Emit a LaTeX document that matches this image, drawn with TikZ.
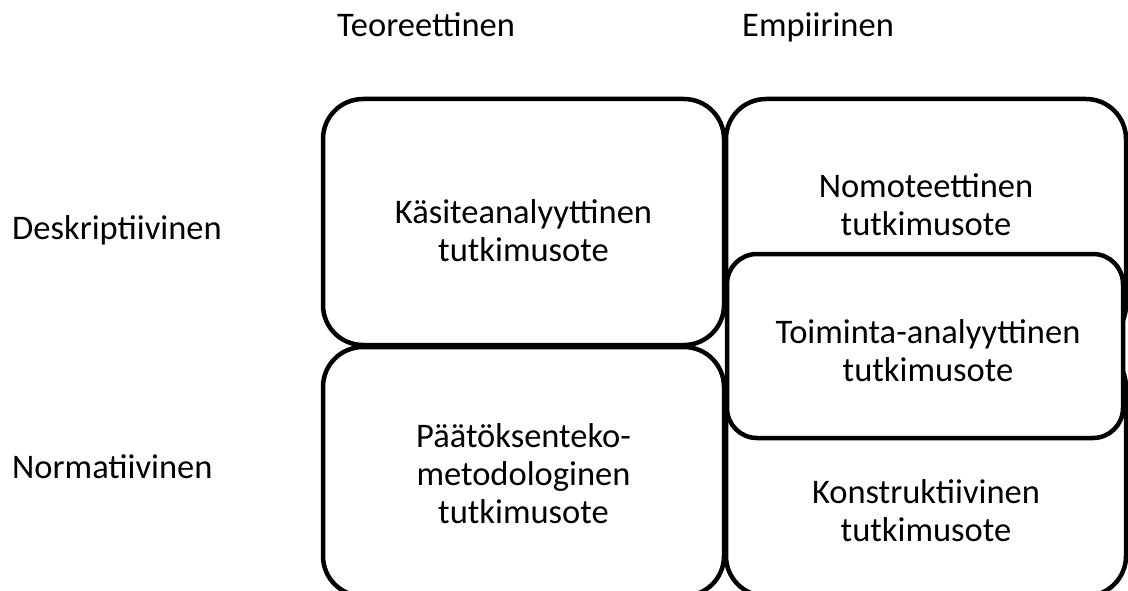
\documentclass[tikz,border=0pt]{standalone}
\usepackage{fontspec}
\setmainfont{Carlito}
\begin{document}
\begin{tikzpicture}[x=1pt,y=-1pt,
  cell/.style={draw=black, line width=4.5pt, fill=white, rounded corners=40pt,
    inner sep=0pt, outer sep=0pt, anchor=north west},
  celltext/.style={align=center, font=\fontsize{34.5}{38}\selectfont, inner sep=0pt},
  axis/.style={font=\fontsize{34.5}{38}\selectfont, inner sep=0pt, anchor=base west}]
\useasboundingbox (0,0) rectangle (1128,591);
\clip (0,0) rectangle (1128,591);
% column headings
\node[axis] (teor) at (337,37) {Teoreettinen};
\node[axis] (emp) at (742,37) {Empiirinen};
% row headings
\node[axis] (desk) at (12,240) {Deskriptiivinen};
\node[axis] (norm) at (12,478) {Normatiivinen};
% cells of the grid
\node[cell, minimum width=401pt, minimum height=246pt] (kasite) at (323,99) {};
\node[cell, minimum width=401pt, minimum height=249pt] (paatos) at (323,347) {};
\node[cell, minimum width=400pt, minimum height=246pt] (nomot) at (726,99) {};
\node[cell, minimum width=400pt, minimum height=249pt] (konstr) at (726,347) {};
\node[cell, rounded corners=30pt, minimum width=396pt, minimum height=184pt] (toim) at (727,254) {};
% cell texts
\node[celltext] (kasiteT) at ([yshift=-9pt]kasite.center) {Käsiteanalyyttinen\\tutkimusote};
\node[celltext] (paatosT) at ([yshift=-2pt]paatos.center) {Päätöksenteko-\\metodologinen\\tutkimusote};
\node[celltext] (nomotT) at ([yshift=17pt]nomot.center) {Nomoteettinen\\tutkimusote};
\node[celltext] (toimT) at ([xshift=3pt,yshift=-5pt]toim.center) {Toiminta-analyyttinen\\tutkimusote};
\node[celltext] (konstrT) at ([yshift=-39pt]konstr.center) {Konstruktiivinen\\tutkimusote};
\end{tikzpicture}
\end{document}
